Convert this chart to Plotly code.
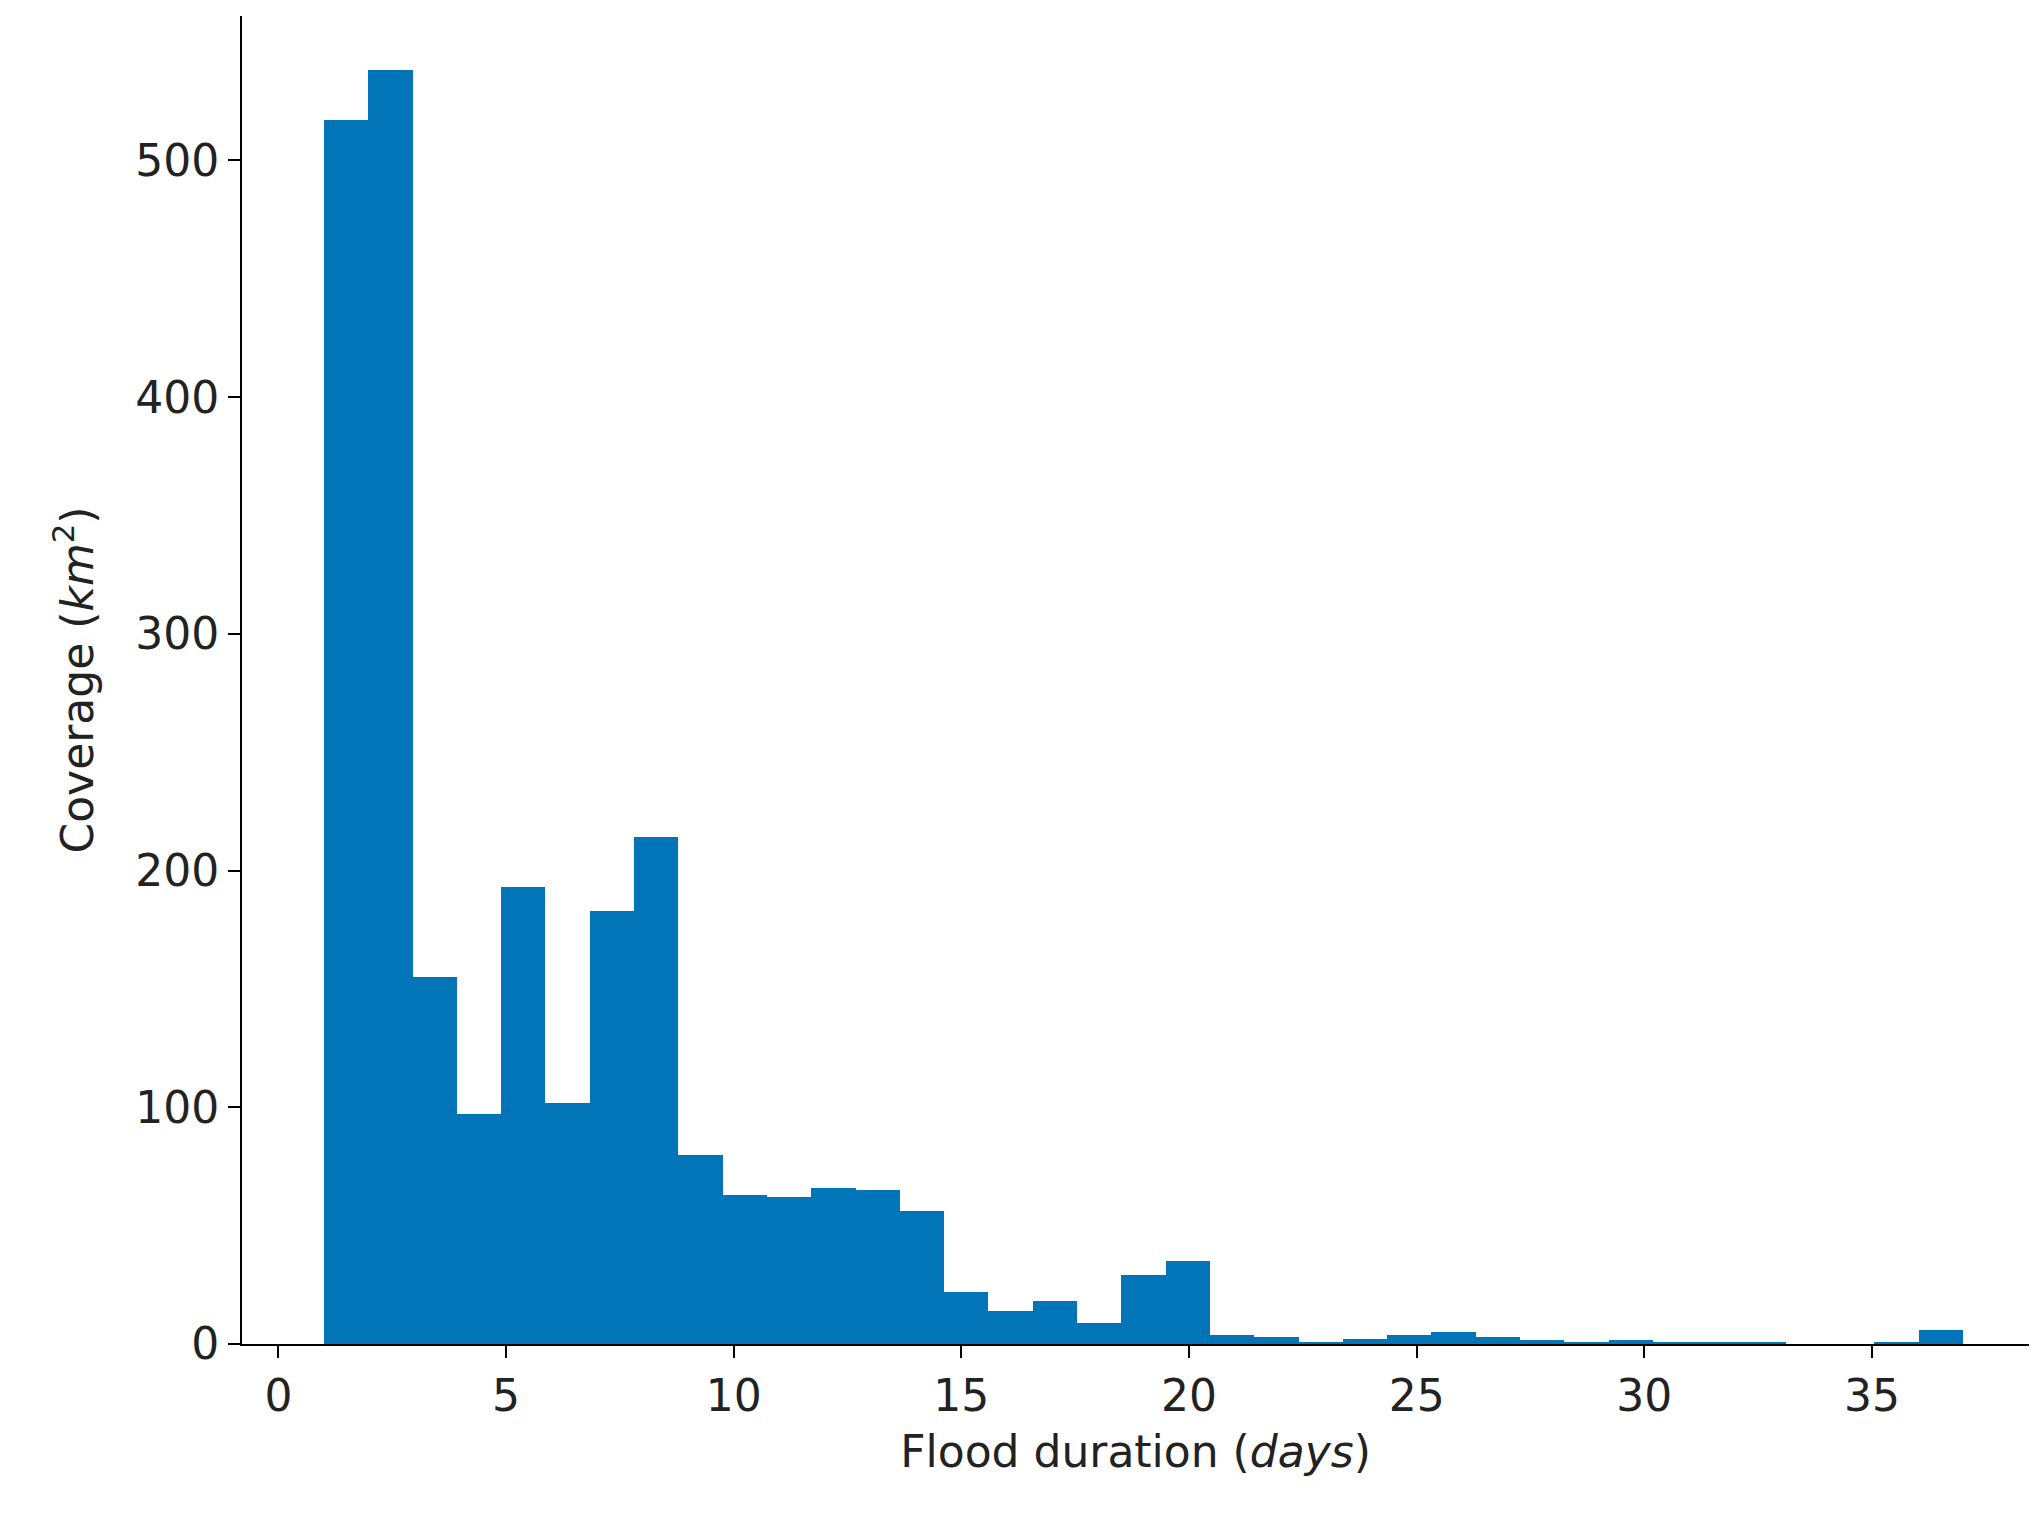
import plotly.graph_objects as go

bin_start = 1.0
bin_end = 37.0
coverage = [517, 538, 155, 97, 193, 102, 183, 214, 80, 63, 62, 66, 65, 56, 22, 14, 18, 9,
            29, 35, 4, 3, 1, 2, 4, 5, 3, 1.5, 1, 1.5, 1, 1, 0.5, 0, 0, 0.8, 6]
x_ticks = [0, 5, 10, 15, 20, 25, 30, 35]
y_ticks = [0, 100, 200, 300, 400, 500]

n = len(coverage)
w = (bin_end - bin_start) / n
centers = [bin_start + w * (i + 0.5) for i in range(n)]

fig = go.Figure(go.Bar(x=centers, y=coverage, width=w, marker=dict(color="#0175B8", line=dict(width=0))))
axis_common = dict(showline=True, linecolor="black", linewidth=2, ticks="outside", ticklen=12,
                   tickwidth=2, tickcolor="black", showgrid=False, zeroline=False,
                   tickfont=dict(size=44, color="#222"), title_font=dict(size=44, color="#222"))
fig.update_xaxes(range=[-0.8, 38.45], tickvals=x_ticks, title_text="Flood duration (<i>days</i>)",
                 title_standoff=16, **axis_common)
fig.update_yaxes(range=[0, 561], tickvals=y_ticks, title_text="Coverage (<i>km</i><sup>2</sup>)",
                 title_standoff=28, **axis_common)
fig.update_layout(width=2043, height=1524, plot_bgcolor="white", paper_bgcolor="white",
                  margin=dict(l=234, r=22, t=8, b=188), bargap=0,
                  font=dict(family="DejaVu Sans"), showlegend=False)
fig.write_html("out.html")
